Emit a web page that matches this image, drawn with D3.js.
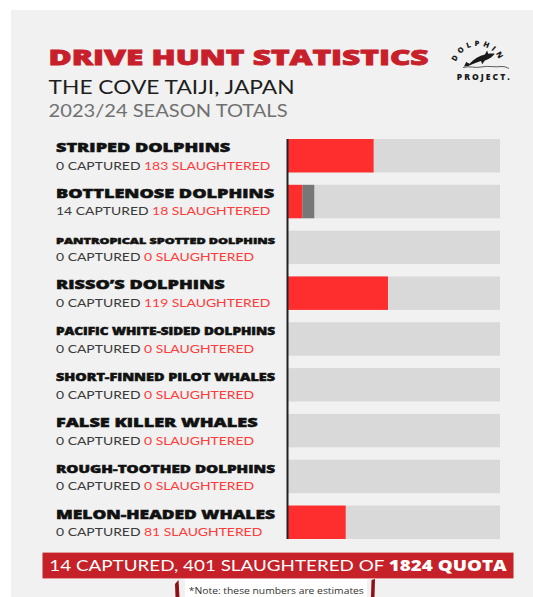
<!DOCTYPE html>
<html>
<head>
<meta charset="utf-8">
<script src="https://cdn.jsdelivr.net/npm/d3@7"></script>
<style>
  html, body { margin: 0; padding: 0; background: #fff; }
  svg { display: block; }
</style>
</head>
<body>
<svg width="533" height="597"></svg>
<script>
// data
const species = ["STRIPED DOLPHINS", "BOTTLENOSE DOLPHINS", "PANTROPICAL SPOTTED DOLPHINS",
  "RISSO\u2019S DOLPHINS", "PACIFIC WHITE-SIDED DOLPHINS", "SHORT-FINNED PILOT WHALES",
  "FALSE KILLER WHALES", "ROUGH-TOOTHED DOLPHINS", "MELON-HEADED WHALES"];
const captured    = [0, 14, 0, 0, 0, 0, 0, 0, 0];
const slaughtered = [183, 18, 0, 119, 0, 0, 0, 0, 81];
const quota       = [450, 250, 400, 251, 36, 101, 22, 20, 294]; // sums to 1824

const title = "DRIVE HUNT STATISTICS",
      subtitle = "THE COVE TAIJI, JAPAN",
      season = "2023/24 SEASON TOTALS",
      note = "*Note: these numbers are estimates";

const rows = species.map((s, i) => ({ name: s, cap: captured[i], sl: slaughtered[i], q: quota[i] }));

const svg = d3.select("svg");
const heavy = "'Open Sans', 'DejaVu Sans', sans-serif";
const light = "Lato, 'Open Sans', sans-serif";

function stretch(sel, k) {
  sel.each(function() {
    const n = this.getComputedTextLength();
    d3.select(this).attr("textLength", n * k).attr("lengthAdjust", "spacingAndGlyphs");
  });
}

// panel
svg.append("rect").attr("x", 11).attr("y", 10).attr("width", 522).attr("height", 587).attr("fill", "#f0f1f0");

// header
svg.append("text").attr("x", 48.6).attr("y", 65.3)
  .attr("font-family", heavy).attr("font-weight", 800).attr("font-size", 21.5)
  .attr("fill", "#c8202a").attr("stroke", "#c8202a").attr("stroke-width", 0.8)
  .attr("textLength", 380).attr("lengthAdjust", "spacingAndGlyphs")
  .text(title);
svg.append("text").attr("x", 48.6).attr("y", 94.2)
  .attr("font-family", light).attr("font-weight", 400).attr("font-size", 19)
  .attr("fill", "#1e1e1e").attr("textLength", 246).attr("lengthAdjust", "spacingAndGlyphs")
  .text(subtitle);
svg.append("text").attr("x", 48.6).attr("y", 117.3)
  .attr("font-family", light).attr("font-weight", 400).attr("font-size", 17)
  .attr("fill", "#707070").attr("textLength", 239).attr("lengthAdjust", "spacingAndGlyphs")
  .text(season);

// logo
const logo = svg.append("g");
logo.append("path").attr("id", "logoArc").attr("d", "M455,69 A23,23 0 0 1 501,69").attr("fill", "none");
logo.append("text").attr("font-family", heavy).attr("font-weight", 800).attr("font-size", 7.5)
  .attr("letter-spacing", 3.2).attr("fill", "#1a1a1a")
  .append("textPath").attr("href", "#logoArc").attr("startOffset", "50%").attr("text-anchor", "middle")
  .text("DOLPHIN");
logo.append("path")
  .attr("transform", "translate(464,50) scale(1.1)")
  .attr("d", "M0,15 L2,11 L5,12.5 C9,8 14,5 19,4 L21,0.5 L22,3.5 C24.5,3 26.5,3 28,3.5 C26,6 23,8.5 19,9.5 L16.5,13 L15.5,10 C11,11.5 7,13 4,14.5 Z")
  .attr("fill", "#1a1a1a");
logo.append("path")
  .attr("d", "M463,67.5 C470,65.5 475,68.5 481,67 C488,65.5 495,67.5 502,66.5 C505,66.5 507,67.5 509,68.5")
  .attr("fill", "none").attr("stroke", "#333").attr("stroke-width", 0.8);
logo.append("text").attr("x", 456.7).attr("y", 80)
  .attr("font-family", heavy).attr("font-weight", 800).attr("font-size", 8.5)
  .attr("fill", "#1a1a1a").attr("textLength", 53).attr("lengthAdjust", "spacing")
  .text("PROJECT.");

// bars
const y = d3.scaleBand().domain(species).range([139, 539]).paddingInner(0.27);
const x = d3.scaleLinear().domain([0, 1]).range([287, 500]);

const row = svg.append("g").selectAll("g").data(rows).join("g")
  .attr("transform", d => `translate(0,${y(d.name)})`);

row.append("rect").attr("x", x(0)).attr("width", x(1) - x(0))
  .attr("height", y.bandwidth()).attr("fill", "#d9d9d9");
row.append("rect").attr("x", x(0)).attr("width", d => x(d.sl / d.q) - x(0))
  .attr("height", y.bandwidth()).attr("fill", "#ff2e2e");
row.append("rect").attr("x", d => x(d.sl / d.q)).attr("width", d => x((d.sl + d.cap) / d.q) - x(d.sl / d.q))
  .attr("height", y.bandwidth()).attr("fill", "#777");

svg.append("line").attr("x1", 287.5).attr("x2", 287.5).attr("y1", 139).attr("y2", 539)
  .attr("stroke", "#222").attr("stroke-width", 2);

// labels
const nameK = 1.39, nameMax = 219, nameSize = 13;
row.append("text").attr("x", 56).attr("y", 13)
  .attr("font-family", heavy).attr("font-weight", 800).attr("font-size", nameSize)
  .attr("fill", "#111").attr("stroke", "#111").attr("stroke-width", 0.5)
  .text(d => d.name)
  .each(function() {
    const w = this.getComputedTextLength() * nameK;
    const t = d3.select(this).attr("lengthAdjust", "spacingAndGlyphs");
    if (w > nameMax) t.attr("font-size", nameSize * nameMax / w).attr("textLength", nameMax);
    else t.attr("textLength", w);
  });

const stat = row.append("text").attr("x", 56).attr("y", 30.6)
  .attr("font-family", light).attr("font-size", 10.5);
stat.append("tspan").attr("fill", "#3a3a3a").text(d => `${d.cap} CAPTURED `);
stat.append("tspan").attr("fill", "#ff3b3b").text(d => `${d.sl} SLAUGHTERED`);
stretch(stat, 1.325);

// footer
svg.append("rect").attr("x", 42.5).attr("y", 552.6).attr("width", 471).attr("height", 25.8).attr("fill", "#c62128");
const foot = svg.append("text").attr("x", 49.3).attr("y", 571.3)
  .attr("font-family", light).attr("font-size", 16).attr("fill", "#fff")
  .attr("textLength", 457.5).attr("lengthAdjust", "spacingAndGlyphs");
foot.append("tspan").text(`${d3.sum(captured)} CAPTURED, ${d3.sum(slaughtered)} SLAUGHTERED OF `);
foot.append("tspan").attr("font-family", heavy).attr("font-weight", 800).text(`${d3.sum(quota)} QUOTA`);

svg.append("path").attr("d", "M175,584 L178.5,580 L179.5,597 L175.5,597 Z").attr("fill", "#8e1018");
svg.append("path").attr("d", "M371.5,580 L375,579 L374.5,597 L371,597 Z").attr("fill", "#8e1018");
svg.append("rect").attr("x", 185).attr("y", 579).attr("width", 182).attr("height", 18).attr("fill", "#fff");
svg.append("text").attr("x", 188.8).attr("y", 594.4)
  .attr("font-family", "'Open Sans', sans-serif").attr("font-size", 8.5).attr("fill", "#333")
  .attr("textLength", 175).attr("lengthAdjust", "spacingAndGlyphs")
  .text(note);
</script>
</body>
</html>
